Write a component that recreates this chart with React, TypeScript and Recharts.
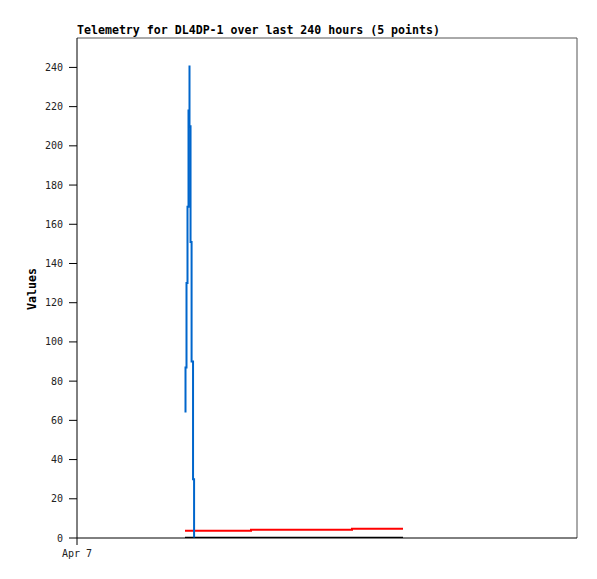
import React from 'react';
import { LineChart, Line, XAxis, YAxis, ReferenceLine } from 'recharts';

const blueHours = [52.08, 52.08, 52.56, 52.56, 53.04, 53.04, 53.52, 53.52, 54.0, 54.0, 54.0, 54.5, 54.5, 55.0, 55.0, 55.7, 55.7, 56.2, 56.2];
const blueValues = [64, 87, 87, 130, 130, 169, 169, 218, 218, 241, 210, 210, 151, 151, 90, 90, 30, 30, 0];
const redHours = [51.84, 83.52, 132, 156.48];
const redValues = [3.7, 4.2, 4.7, 4.7];
const blackHours = [51.84, 156.48];
const blackValues = [0, 0];
const yTicks = [0, 20, 40, 60, 80, 100, 120, 140, 160, 180, 200, 220, 240];
const xTicks = [0];
const xTickLabels = ['Apr 7'];

const blueData = blueHours.map((t, i) => ({ t, v: blueValues[i] }));
const redData = redHours.map((t, i) => ({ t, v: redValues[i] }));
const blackData = blackHours.map((t, i) => ({ t, v: blackValues[i] }));

const mono = '"DejaVu Sans Mono", monospace';

export default function App() {
  return (
    <div style={{ position: 'absolute', left: 0, top: 0, width: 597, height: 579, background: '#fff' }}>
      <div
        style={{
          position: 'absolute',
          left: 77,
          top: 24,
          fontFamily: mono,
          fontWeight: 'bold',
          fontSize: 11.6,
          lineHeight: '13px',
          color: '#000',
          whiteSpace: 'nowrap',
        }}
      >
        Telemetry for DL4DP-1 over last 240 hours (5 points)
      </div>
      <div
        style={{
          position: 'absolute',
          left: 32,
          top: 289,
          transform: 'translate(-50%, -50%) rotate(-90deg)',
          fontFamily: mono,
          fontWeight: 'bold',
          fontSize: 11.6,
          color: '#000',
          whiteSpace: 'nowrap',
        }}
      >
        Values
      </div>
      <LineChart width={597} height={579} margin={{ top: 38, right: 20, bottom: 11, left: 0 }}>
        <XAxis
          type="number"
          dataKey="t"
          domain={[0, 240]}
          ticks={xTicks}
          tickFormatter={(v: number, i: number) => xTickLabels[i] ?? ''}
          height={30}
          tickSize={7}
          tickMargin={5}
          axisLine={{ stroke: '#000' }}
          tickLine={{ stroke: '#000' }}
          tick={{ fontFamily: mono, fontSize: 10, fill: '#222' }}
          allowDataOverflow
        />
        <YAxis
          type="number"
          domain={[0, 255]}
          ticks={yTicks}
          width={77}
          tickSize={8}
          tickMargin={6}
          axisLine={{ stroke: '#000' }}
          tickLine={{ stroke: '#000' }}
          tick={{ fontFamily: mono, fontSize: 10, fill: '#222' }}
          allowDataOverflow
        />
        <ReferenceLine y={255} stroke="#555" strokeWidth={1} />
        <ReferenceLine x={240} stroke="#555" strokeWidth={1} />
        <Line data={blackData} dataKey="v" type="linear" stroke="#000" strokeWidth={2.5} dot={false} isAnimationActive={false} />
        <Line data={redData} dataKey="v" type="stepAfter" stroke="#ff0000" strokeWidth={2} dot={false} isAnimationActive={false} />
        <Line data={blueData} dataKey="v" type="linear" stroke="#0066cc" strokeWidth={2} dot={false} isAnimationActive={false} />
      </LineChart>
    </div>
  );
}
